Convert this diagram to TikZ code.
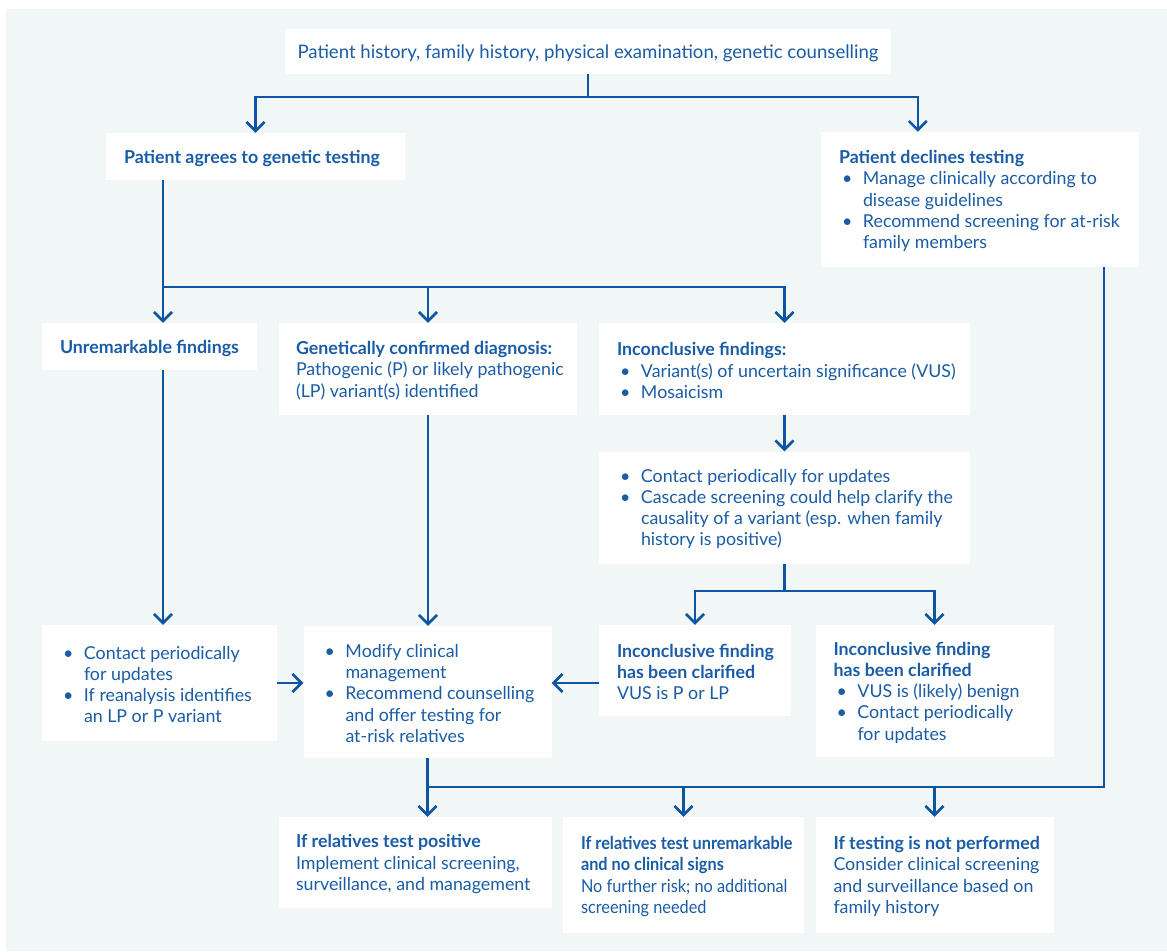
\documentclass[tikz,border=0pt]{standalone}
\usepackage{fontspec}
\setmainfont{Lato}
\newfontfamily\condensed[FakeStretch=0.915]{Lato}
\usetikzlibrary{arrows.meta,calc}
\definecolor{bgc}{HTML}{F1F6F7}
\definecolor{lnc}{HTML}{0D55A1}
\definecolor{txc}{HTML}{1A5CA6}
\newcommand{\bul}{\makebox[24pt][l]{\hspace{3pt}\textbullet}}
\newcommand{\cnt}{\hspace*{24pt}}
\begin{document}
\begin{tikzpicture}[x=1pt,y=-1pt,
  bx/.style 2 args={fill=white, draw=none, inner sep=0pt, minimum width=#1, minimum height=#2},
  txt/.style={inner sep=0pt, align=left, text=txc, anchor=west, yshift=-1.5pt, font=\fontsize{17.8}{21.3}\selectfont},
  ln/.style={draw=lnc, line width=2.6pt},
  arr/.style={ln, -{Straight Barb[length=9pt,width=18pt]}}]
\useasboundingbox (0,0) rectangle (1167,951);
\fill[bgc] (6,9) rectangle (1167,951);

% boxes
\node[bx={606pt}{45pt}]  (top)    at (588,51.5) {};
\node[bx={299pt}{47pt}]  (agree)  at (255.5,156.5) {};
\node[bx={318pt}{135pt}] (decl)   at (980,199.5) {};
\node[bx={215pt}{47pt}]  (unrem)  at (149.5,346.5) {};
\node[bx={298pt}{92pt}]  (gen)    at (428,369) {};
\node[bx={371pt}{92pt}]  (incl)   at (784.5,369) {};
\node[bx={371pt}{112pt}] (cont)   at (784.5,507.5) {};
\node[bx={235pt}{116pt}] (left3)  at (159.5,683) {};
\node[bx={248pt}{132pt}] (modify) at (427.5,692) {};
\node[bx={192pt}{91pt}]  (clarP)  at (695,670.5) {};
\node[bx={238pt}{132pt}] (clarB)  at (934.5,691) {};
\node[bx={273pt}{91pt}]  (pos)    at (415.5,862.5) {};
\node[bx={241pt}{116pt}] (unr2)   at (683.5,875) {};
\node[bx={238pt}{116pt}] (notp)   at (934.5,875) {};

% texts
\node[txt, anchor=center, align=center, font=\fontsize{18.6}{22}\selectfont] (top-t) at (top) {Patient history, family history, physical examination, genetic counselling};
\node[txt] (agree-t) at ([xshift=18pt]agree.west) {\textbf{Patient agrees to genetic testing}};
\node[txt] (decl-t) at ([xshift=18pt]decl.west) {\textbf{Patient declines testing}\\
\bul Manage clinically according to\\
\cnt disease guidelines\\
\bul Recommend screening for at-risk\\
\cnt family members};
\node[txt] (unrem-t) at ([xshift=18pt]unrem.west) {\textbf{Unremarkable findings}};
\node[txt] (gen-t) at ([xshift=17pt]gen.west) {\textbf{Genetically confirmed diagnosis:}\\
Pathogenic (P) or likely pathogenic\\
(LP) variant(s) identified};
\node[txt] (incl-t) at ([xshift=18pt]incl.west) {\textbf{Inconclusive findings:}\\
\bul Variant(s) of uncertain significance (VUS)\\
\bul Mosaicism};
\node[txt] (cont-t) at ([xshift=18pt]cont.west) {\bul Contact periodically for updates\\
\bul Cascade screening could help clarify the\\
\cnt causality of a variant (esp. when family\\
\cnt history is positive)};
\node[txt] (left3-t) at ([xshift=18pt]left3.west) {\bul Contact periodically\\
\cnt for updates\\
\bul If reanalysis identifies\\
\cnt an LP or P variant};
\node[txt] (modify-t) at ([xshift=18pt]modify.west) {\bul Modify clinical\\
\cnt management\\
\bul Recommend counselling\\
\cnt and offer testing for\\
\cnt at-risk relatives};
\node[txt] (clarP-t) at ([xshift=18pt]clarP.west) {\textbf{Inconclusive finding}\\
\textbf{has been clarified}\\
VUS is P or LP};
\node[txt] (clarB-t) at ([xshift=18pt]clarB.west) {\textbf{Inconclusive finding}\\
\textbf{has been clarified}\\
\bul VUS is (likely) benign\\
\bul Contact periodically\\
\cnt for updates};
\node[txt] (pos-t) at ([xshift=17pt]pos.west) {\textbf{If relatives test positive}\\
Implement clinical screening,\\
surveillance, and management};
\node[txt, font=\condensed\fontsize{17.8}{21.3}\selectfont] (unr2-t) at ([xshift=18pt]unr2.west) {\textbf{If relatives test unremarkable}\\
\textbf{and no clinical signs}\\
No further risk; no additional\\
screening needed};
\node[txt] (notp-t) at ([xshift=18pt]notp.west) {\textbf{If testing is not performed}\\
Consider clinical screening\\
and surveillance based on\\
family history};

% connectors
\coordinate (tj) at (588,97);
\draw[ln] (top.south) -- (tj);
\draw[arr] (tj) -| (agree.north);
\draw[arr] (tj) -| ([xshift=97pt]decl.north west);

\coordinate (sj) at (163,287);
\draw[arr] (agree.south -| sj) -- (unrem.north -| sj);
\draw[arr] (sj) -| (incl.north);
\draw[arr] (sj -| gen.north) -- (gen.north);

\draw[arr] (unrem.south -| sj) -- (left3.north -| sj);
\draw[arr] (gen.south) -- (gen.south |- modify.north);
\draw[arr] (incl.south) -- (cont.north);

\coordinate (cj) at (784.5,591);
\draw[ln] (cont.south) -- (cj);
\draw[arr] (cj) -| (clarP.north);
\draw[arr] (cj) -| (clarB.north);

\draw[arr] (left3.east) -- (left3.east -| modify.west);
\draw[arr] (clarP.west |- left3.east) -- (modify.east |- left3.east);

\coordinate (rj) at (1104,787);
\coordinate (bj) at (modify.south |- rj);
\draw[ln] (decl.south -| rj) |- (bj);
\draw[arr] (modify.south) -- (modify.south |- pos.north);
\draw[arr] (unr2.north |- rj) -- (unr2.north);
\draw[arr] (notp.north |- rj) -- (notp.north);
\end{tikzpicture}
\end{document}
